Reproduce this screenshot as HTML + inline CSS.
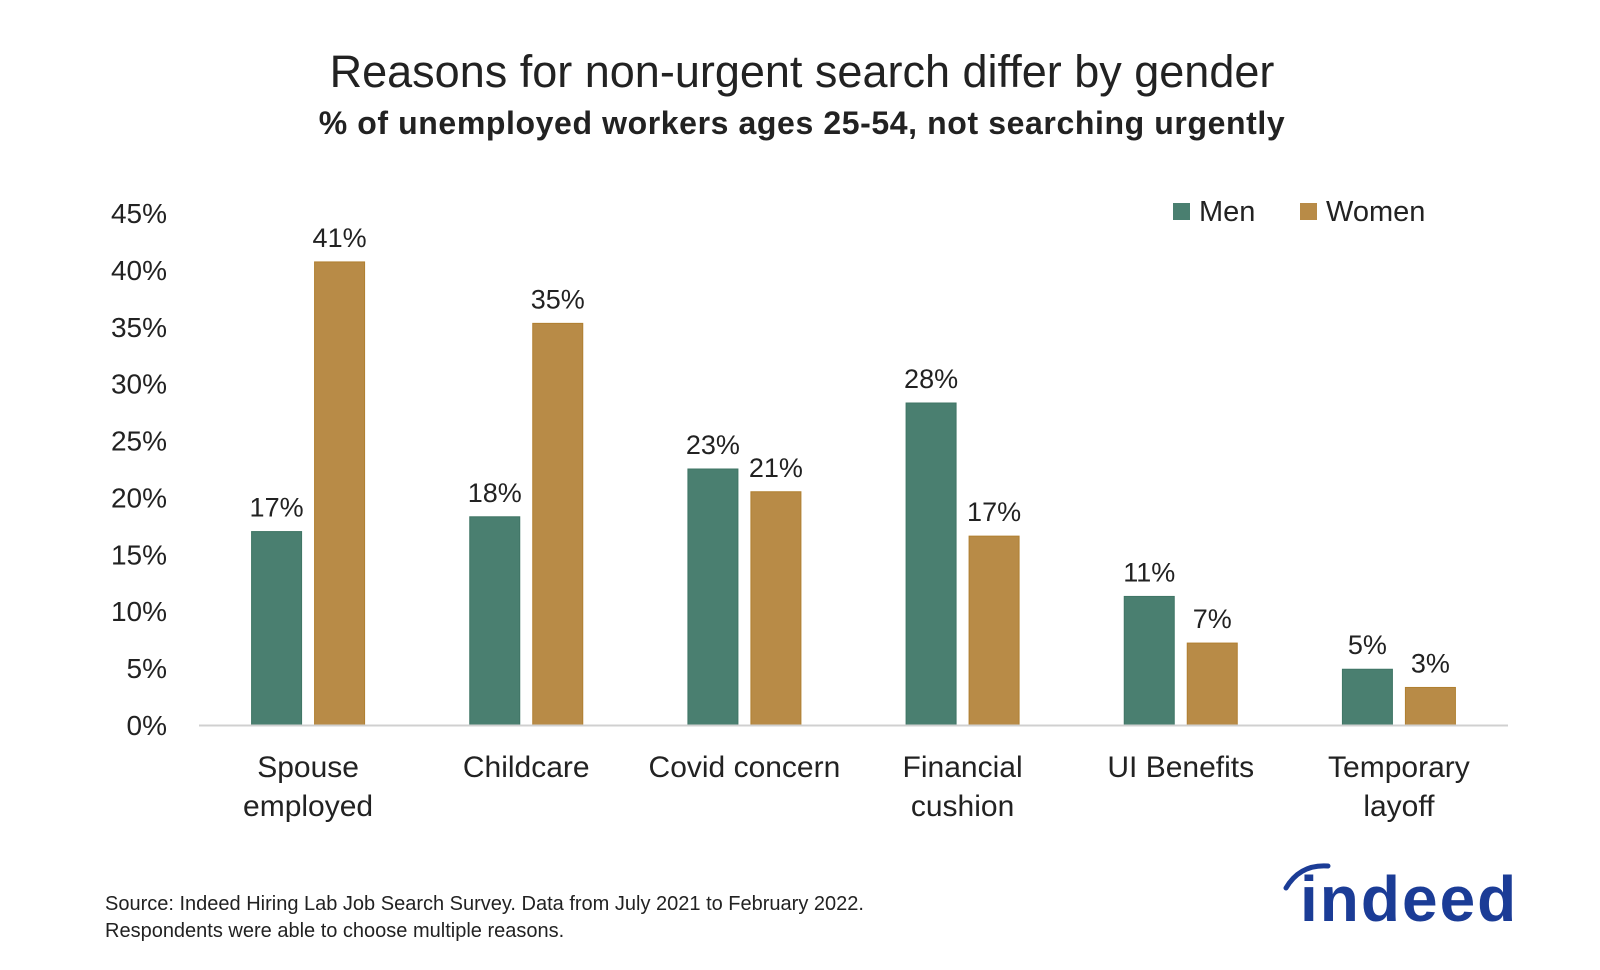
<!DOCTYPE html>
<html><head><meta charset="utf-8">
<style>
html,body{margin:0;padding:0;background:#fff;}
body{width:1600px;height:965px;overflow:hidden;font-family:"Liberation Sans","DejaVu Sans",sans-serif;}
</style></head>
<body>
<svg id="chart" width="1600" height="965" viewBox="0 0 1600 965" xmlns="http://www.w3.org/2000/svg" font-family="Liberation Sans, DejaVu Sans, sans-serif">
<text x="802" y="87" text-anchor="middle" font-size="45" fill="#222">Reasons for non-urgent search differ by gender</text>
<text x="802" y="134" text-anchor="middle" font-size="32" font-weight="bold" fill="#222" letter-spacing="0.6">% of unemployed workers ages 25-54, not searching urgently</text>
<g id="yaxis"></g>
<g id="bars"></g>
<g id="xaxis"></g>
<g>
<rect x="1173" y="203" width="17" height="17" fill="#4a7f70"/>
<text x="1199" y="221" font-size="29" fill="#222">Men</text>
<rect x="1300" y="203" width="17" height="17" fill="#b88b47"/>
<text x="1326" y="221" font-size="29" fill="#222">Women</text>
</g>
<text x="105" y="910" font-size="20" fill="#222">Source: Indeed Hiring Lab Job Search Survey. Data from July 2021 to February 2022.</text>
<text x="105" y="937" font-size="20" fill="#222">Respondents were able to choose multiple reasons.</text>
<g>
<path d="M1286 888 Q1300 864 1328 866" stroke="#1b3c96" stroke-width="5" fill="none" stroke-linecap="round"/>
<text x="1300" y="921" font-size="64" font-weight="bold" fill="#1b3c96" letter-spacing="2">indeed</text>
</g>
</svg>
<script>
const categories = [["Spouse","employed"],["Childcare"],["Covid concern"],["Financial","cushion"],["UI Benefits"],["Temporary","layoff"]];
const menValues = [17.0,18.3,22.5,28.3,11.3,4.9];
const womenValues = [40.7,35.3,20.5,16.6,7.2,3.3];
const menLabels = ["17%","18%","23%","28%","11%","5%"];
const womenLabels = ["41%","35%","21%","17%","7%","3%"];
const yTicks = [0,5,10,15,20,25,30,35,40,45];

const NS="http://www.w3.org/2000/svg";
const x0=199,x1=1508,yBase=725,yTop=213,vMax=45;
const band=(x1-x0)/categories.length;
const y=v=>yBase-(v/vMax)*(yBase-yTop);
function mk(tag,attrs,parent,txt){const e=document.createElementNS(NS,tag);for(const k in attrs)e.setAttribute(k,attrs[k]);if(txt!==undefined)e.textContent=txt;parent.appendChild(e);return e;}
const ya=document.getElementById('yaxis'),bars=document.getElementById('bars'),xa=document.getElementById('xaxis');
yTicks.forEach(t=>{
  const e=mk('text',{x:167,y:y(t)+10,'text-anchor':'end','font-size':'28',fill:'#222'},ya,t+'%');
  
  
});
const ax=mk('line',{x1:x0,x2:x1,y1:yBase+0.5,y2:yBase+0.5,stroke:'#d0d0d0','stroke-width':'2'},xa);


const bw=50,gap=13;
categories.forEach((c,i)=>{
  const cx=x0+band*i+band/2;
  const mx=cx-gap/2-bw, wx=cx+gap/2;
  const mb=mk('rect',{x:mx,y:y(menValues[i]),width:bw,height:yBase-y(menValues[i]),fill:'#4a7f70',stroke:'#3f7565','stroke-width':'1'},bars);
  
  
  const wb=mk('rect',{x:wx,y:y(womenValues[i]),width:bw,height:yBase-y(womenValues[i]),fill:'#b88b47',stroke:'#b07f30','stroke-width':'1'},bars);
  
  
  const ml=mk('text',{x:mx+bw/2,y:y(menValues[i])-15,'text-anchor':'middle','font-size':'27',fill:'#222'},bars,menLabels[i]);
  
  
  const wl=mk('text',{x:wx+bw/2,y:y(womenValues[i])-15,'text-anchor':'middle','font-size':'27',fill:'#222'},bars,womenLabels[i]);
  
  
  c.forEach((line,j)=>{
    const t=mk('text',{x:cx,y:777+j*39,'text-anchor':'middle','font-size':'30',fill:'#222'},xa,line);
    
    
  });
});
</script>
</body></html>
